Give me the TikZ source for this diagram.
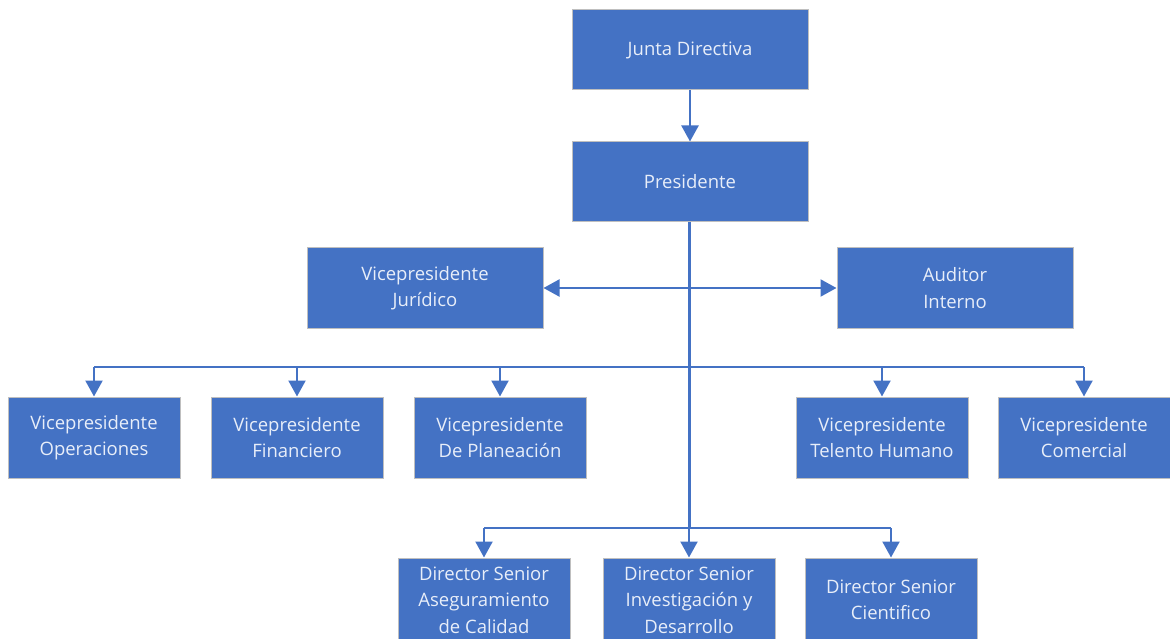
\documentclass[tikz,border=0pt]{standalone}
\usepackage{fontspec}
\setmainfont{Open Sans}
\usetikzlibrary{arrows.meta}
\definecolor{obl}{HTML}{4472C4}
\definecolor{txt}{HTML}{E8EEF9}
\begin{document}
\begin{tikzpicture}[x=1pt,y=-1pt,
  box/.style={draw=black!25, line width=1pt, fill=obl, text=txt, align=center,
    inner sep=0pt, font=\fontsize{18.5}{26.5}\selectfont},
  big/.style={box, minimum width=236pt, minimum height=80pt},
  small/.style={box, minimum width=172pt, minimum height=81pt},
  dir/.style={box, minimum width=172pt, minimum height=84pt},
  conn/.style={draw=obl, line width=2.2pt},
  trunk/.style={draw=obl, line width=3pt},
  arr/.style={conn, -{Triangle[width=17pt,length=16pt]}},
  darr/.style={conn, {Triangle[width=17pt,length=16pt]}-{Triangle[width=17pt,length=16pt]}}]
\useasboundingbox (0,0) rectangle (1170,639);
\node[big] (junta) at (690,50) {Junta Directiva};
\node[big] (pres) at (690,182) {Presidente};
\node[big] (jur) at (425,288) {Vicepresidente\\Jurídico};
\node[big] (aud) at (955,288) {Auditor\\Interno};
\node[small] (ope) at (94,437.5) {Vicepresidente\\Operaciones};
\node[small] (fin) at (297,437.5) {Vicepresidente\\Financiero};
\node[small] (pla) at (500,437.5) {Vicepresidente\\De Planeación};
\node[small] (tal) at (882,437.5) {Vicepresidente\\Telento Humano};
\node[small] (com) at (1084,437.5) {Vicepresidente\\Comercial};
\node[dir] (ase) at (484,600) {Director Senior\\Aseguramiento\\de Calidad};
\node[dir] (inv) at (689,600) {Director Senior\\Investigación y\\Desarrollo};
\node[dir] (cie) at (891,600) {Director Senior\\Cientifico};
\coordinate (b1) at (94,367);
\coordinate (b2) at (1084,367);
\coordinate (d1) at (484,528);
\coordinate (d2) at (891,528);
\coordinate (dm) at (689,528);
\draw[arr] (junta) -- (pres);
\draw[darr] (jur.east) -- (aud.west);
\draw[conn] (b1) -- (b2);
\draw[conn] (d1) -- (d2);
\draw[trunk] (pres.south -| dm) -- (dm);
\foreach \n in {ope,fin,pla,tal,com} \draw[arr] (\n.north |- b1) -- (\n.north);
\foreach \n in {ase,inv,cie} \draw[arr] (\n.north |- d1) -- (\n.north);
\end{tikzpicture}
\end{document}
